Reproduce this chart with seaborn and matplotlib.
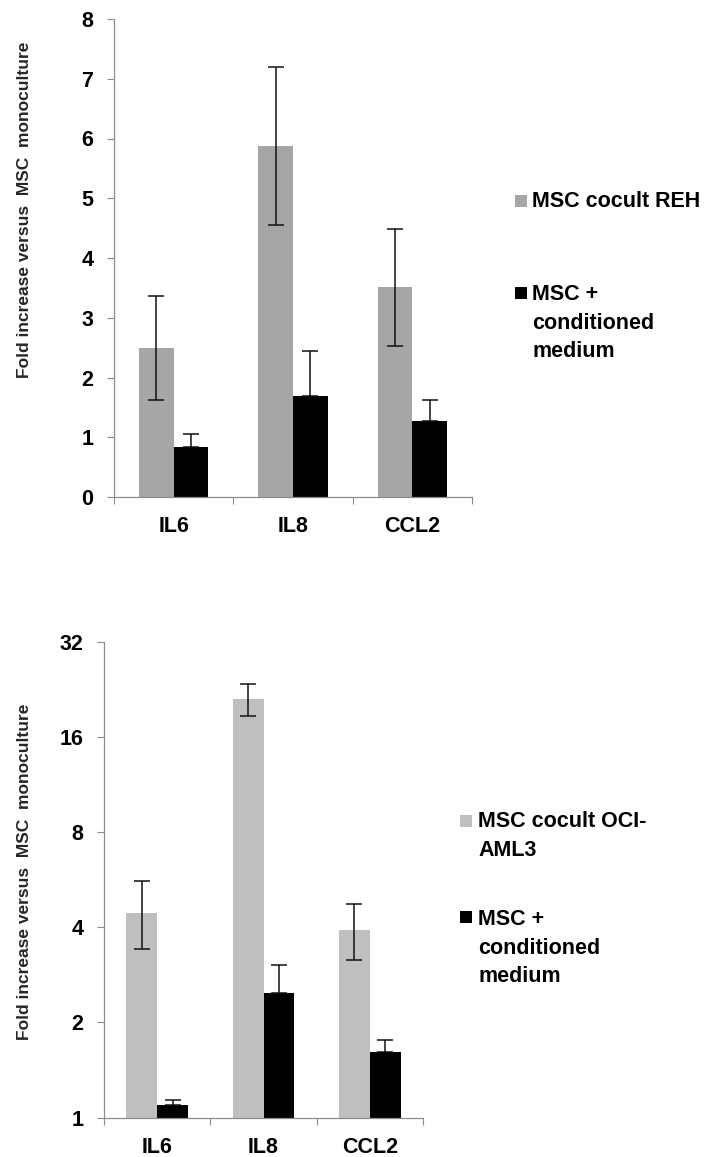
import numpy as np
import pandas as pd
import matplotlib
matplotlib.use("Agg")
import matplotlib.pyplot as plt
from matplotlib.patches import Rectangle
from matplotlib.ticker import FixedLocator, NullLocator
import seaborn as sns

# ---------------- data ----------------
genes = ["IL6", "IL8", "CCL2"]

# top panel (REH), linear scale
reh_series = ["MSC cocult REH", "MSC +\nconditioned\nmedium"]
reh_cocult = [2.49, 5.88, 3.51]
reh_cocult_err = [0.87, 1.32, 0.98]
reh_cm = [0.83, 1.69, 1.28]
reh_cm_err = [0.22, 0.75, 0.35]
reh_yticks = [0, 1, 2, 3, 4, 5, 6, 7, 8]

# bottom panel (OCI-AML3), log2 scale
aml_series = ["MSC cocult OCI-\nAML3", "MSC +\nconditioned\nmedium"]
aml_cocult = [4.45, 21.1, 3.93]
aml_cocult_lo = [3.41, 18.6, 3.15]
aml_cocult_hi = [5.58, 23.55, 4.72]
aml_cm = [1.10, 2.48, 1.61]
aml_cm_hi = [1.14, 3.03, 1.76]
aml_yticks = [1, 2, 4, 8, 16, 32]

ylabel = "Fold increase versus  MSC  monoculture"

# ---------------- style ----------------
sns.set_theme(style="ticks")
plt.rcParams["font.family"] = ["Liberation Sans", "DejaVu Sans"]
plt.rcParams["font.weight"] = "bold"

W, H = 719, 1157
fig = plt.figure(figsize=(W / 100, H / 100), dpi=100)


def fx(px):
    return px / W


def fy(py):
    return 1 - py / H


SPINE = "#8c8c8c"
FS = 15.5


def make_panel(rect, series, v1, v2, colors, log, yticks, ylim):
    ax = fig.add_axes(rect)
    df = pd.DataFrame({
        "gene": genes * 2,
        "series": [series[0]] * 3 + [series[1]] * 3,
        "value": list(v1) + list(v2),
    })
    if log:
        ax.set_yscale("log", base=2)
    sns.barplot(data=df, x="gene", y="value", hue="series", order=genes,
                hue_order=series, palette=colors, width=0.58, gap=0,
                errorbar=None, legend=False, ax=ax, saturation=1,
                edgecolor="none", linewidth=0)
    ax.set_xlim(-0.5, 2.5)
    ax.set_ylim(*ylim)
    ax.yaxis.set_major_locator(FixedLocator(yticks))
    ax.yaxis.set_minor_locator(NullLocator())
    ax.set_yticklabels([str(t) for t in yticks])
    ax.xaxis.set_minor_locator(FixedLocator([-0.5, 0.5, 1.5, 2.5]))
    ax.tick_params(axis="x", which="major", length=0, pad=14, labelsize=FS,
                   labelcolor="black")
    ax.tick_params(axis="x", which="minor", length=5, width=0.8,
                   color=SPINE, direction="out")
    ax.tick_params(axis="y", which="major", length=5, width=0.8,
                   color=SPINE, direction="out", pad=10, labelsize=FS,
                   labelcolor="black")
    for lab in ax.get_xticklabels() + ax.get_yticklabels():
        lab.set_fontweight("bold")
    sns.despine(ax=ax)
    for s in ("left", "bottom"):
        ax.spines[s].set_color(SPINE)
        ax.spines[s].set_linewidth(0.9)
    ax.set_xlabel("")
    ax.set_ylabel("")
    return ax


def bar_centers(ax, n):
    pats = [p for p in ax.patches if isinstance(p, Rectangle)]
    xs = [p.get_x() + p.get_width() / 2 for p in pats]
    return xs[:n], xs[n:2 * n]


def draw_legend(x_sq, x_txt, entries):
    for (label, color, sq_top, text_top) in entries:
        fig.add_artist(Rectangle((fx(x_sq), fy(sq_top + 12)), 12 / W, 12 / H,
                                 transform=fig.transFigure, facecolor=color,
                                 edgecolor="none"))
        fig.text(fx(x_txt), fy(text_top), label, ha="left", va="top",
                 fontsize=FS, fontweight="bold", linespacing=1.48,
                 color="black")


EB = dict(fmt="none", ecolor="#111111", elinewidth=1.1, capsize=5.5,
          capthick=1.1)

# ---------------- top panel ----------------
c_top = ["#a6a6a6", "#000000"]
ax1 = make_panel([fx(114), fy(497), fx(472) - fx(114), fy(19) - fy(497)],
                 reh_series, reh_cocult, reh_cm, c_top, False,
                 reh_yticks, (0, 8))
xg, xb = bar_centers(ax1, 3)
ax1.errorbar(xg, reh_cocult, yerr=reh_cocult_err, **EB)
ax1.errorbar(xb, reh_cm, yerr=[np.zeros(3), reh_cm_err], **EB)
fig.text(fx(25), fy(210), ylabel, rotation=90, ha="center", va="center",
         fontsize=12.5, fontweight="bold")
draw_legend(515, 532, [(reh_series[0], c_top[0], 195, 191),
                       (reh_series[1], c_top[1], 287, 284)])

# ---------------- bottom panel ----------------
c_bot = ["#bfbfbf", "#000000"]
ax2 = make_panel([fx(104), fy(1117.6), fx(423) - fx(104), fy(641.6) - fy(1117.6)],
                 aml_series, aml_cocult, aml_cm, c_bot, True,
                 aml_yticks, (1, 32))
xg, xb = bar_centers(ax2, 3)
ax2.errorbar(xg, aml_cocult,
             yerr=[np.subtract(aml_cocult, aml_cocult_lo),
                   np.subtract(aml_cocult_hi, aml_cocult)], **EB)
ax2.errorbar(xb, aml_cm,
             yerr=[np.zeros(3), np.subtract(aml_cm_hi, aml_cm)], **EB)
fig.text(fx(25), fy(872), ylabel, rotation=90, ha="center", va="center",
         fontsize=12.5, fontweight="bold")
draw_legend(460, 478, [(aml_series[0], c_bot[0], 815, 811),
                       (aml_series[1], c_bot[1], 911, 909)])

fig.savefig("out.png", dpi=100, facecolor="white")
